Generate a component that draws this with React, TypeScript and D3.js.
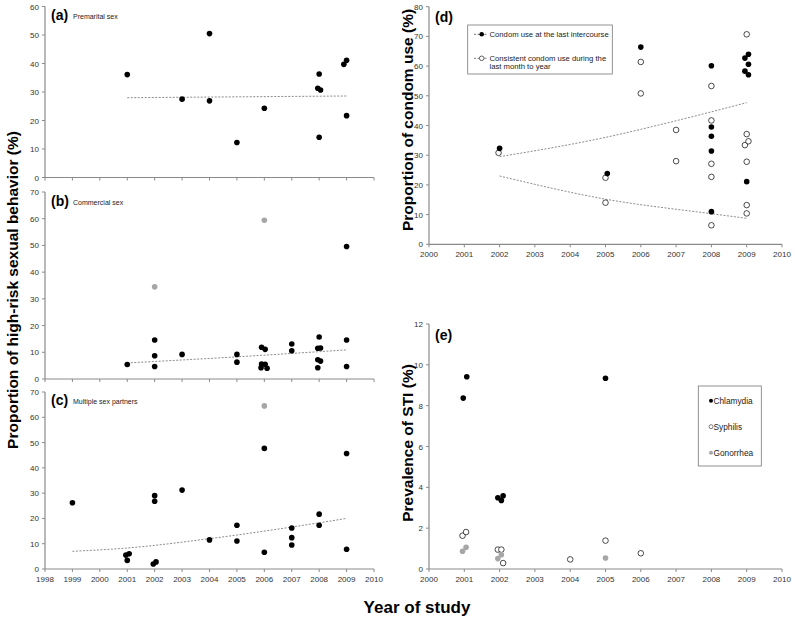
import React from "react";
import * as d3 from "d3";

// ---------- Data ----------
// Panel (a) Premarital sex: [year, %]
const premarital: [number, number][] = [
  [2001, 36.1], [2003, 27.5], [2004, 50.5], [2004, 26.9], [2005, 12.3], [2006, 24.3],
  [2008, 36.3], [2007.95, 31.3], [2008.05, 30.7], [2008, 14.1], [2008.9, 39.7], [2009, 41.1], [2009, 21.7],
];
const premaritalTrend: [number, number][] = [[2001, 28.0], [2009, 28.6]];

// Panel (b) Commercial sex
const commercial: [number, number][] = [
  [2001, 5.4], [2002, 14.6], [2002, 8.7], [2002, 4.7], [2003, 9.2], [2005, 9.2], [2005, 6.3],
  [2005.9, 11.9], [2006.03, 11.1], [2005.9, 5.6], [2005.88, 4.2], [2006.03, 5.5], [2006.1, 4.0],
  [2007, 13.1], [2007, 10.6], [2008, 15.7], [2007.95, 11.5], [2008.05, 11.6], [2007.95, 7.2],
  [2008.05, 6.7], [2007.95, 4.2], [2009, 14.6], [2009, 4.7], [2009, 49.6],
];
const commercialGray: [number, number][] = [[2002, 34.5], [2006, 59.4]];
const commercialTrend: [number, number][] = [[2001, 6.0], [2005, 8.3], [2009, 10.9]];

// Panel (c) Multiple sex partners
const multiple: [number, number][] = [
  [1999, 26.2], [2000.95, 5.5], [2001.07, 6.0], [2001, 3.4], [2002, 29.0], [2002, 26.8],
  [2001.95, 2.0], [2002.05, 2.8], [2003, 31.2], [2004, 11.5], [2005, 17.3], [2005, 11.1],
  [2006, 47.7], [2006, 6.6], [2007, 16.2], [2007, 12.4], [2007, 9.5], [2008, 21.7], [2008, 17.3],
  [2009, 45.7], [2009, 7.8],
];
const multipleGray: [number, number][] = [[2006, 64.5]];
const multipleTrend: [number, number][] = [[1999, 7.0], [2001, 8.3], [2004, 12.0], [2007, 16.6], [2009, 20.0]];

// Panel (d) Condom use
const condomLast: [number, number][] = [
  [2002, 32.3], [2005.05, 23.8], [2006, 66.4], [2008, 60.1], [2008, 39.5], [2008, 36.4], [2008, 31.4],
  [2008, 11.0], [2008.95, 62.7], [2009.05, 64.0], [2009.05, 60.6], [2008.95, 58.3], [2009.05, 57.1],
  [2009, 21.1],
];
const condomConsistent: [number, number][] = [
  [2001.97, 30.8], [2005, 22.4], [2005, 14.0], [2006, 61.4], [2006, 50.8], [2007, 38.5], [2007, 28.0],
  [2008, 53.3], [2008, 41.7], [2008, 27.1], [2008, 22.7], [2008, 6.4], [2009, 70.7], [2009, 37.1],
  [2008.95, 33.4], [2009.05, 34.7], [2009, 27.8], [2009, 13.2], [2009, 10.4],
];
const condomLastTrend: [number, number][] = [[2002, 29.5], [2005, 36.0], [2007, 41.6], [2009, 47.7]];
const condomConsistentTrend: [number, number][] = [[2002, 23.0], [2005, 15.2], [2008, 10.3], [2009, 8.75]];

// Panel (e) STI prevalence
const chlamydia: [number, number][] = [
  [2000.97, 8.37], [2001.07, 9.42], [2005, 9.34], [2001.95, 3.49], [2002.05, 3.36], [2002.1, 3.59],
];
const syphilis: [number, number][] = [
  [2000.95, 1.63], [2001.05, 1.81], [2001.95, 0.95], [2002.05, 0.95], [2002.1, 0.29],
  [2004, 0.47], [2005, 1.39], [2006, 0.77],
];
const gonorrhea: [number, number][] = [
  [2000.95, 0.87], [2001.05, 1.06], [2001.95, 0.51], [2002.05, 0.70], [2005, 0.54],
];

const leftYears = d3.range(1998, 2011);
const rightYears = d3.range(2000, 2011);
const ticksA = [0, 10, 20, 30, 40, 50, 60];
const ticksBC = [0, 10, 20, 30, 40, 50, 60, 70];
const ticksD = [0, 10, 20, 30, 40, 50, 60, 70, 80];
const ticksE = [0, 2, 4, 6, 8, 10, 12];

// ---------- Styles ----------
const FONT = "Arial, 'Liberation Sans', Helvetica, sans-serif";
const AXIS = "#8a8a8a";
const TICKTXT = "#333";
const GRAY = "#a6a6a6";
const R = 2.8;

type Scale = d3.ScaleLinear<number, number>;

function Axes({ x, y, xTicks, yTicks, showXLabels }: { x: Scale; y: Scale; xTicks: number[]; yTicks: number[]; showXLabels: boolean }) {
  const [x0, x1] = x.range();
  const [y0, y1] = y.range();
  return (
    <g fontFamily={FONT}>
      <line x1={x0} x2={x1} y1={y0} y2={y0} stroke={AXIS} strokeWidth={1.2} />
      <line x1={x0} x2={x0} y1={y0} y2={y1} stroke={AXIS} strokeWidth={1.2} />
      {xTicks.map((t) => (
        <g key={"x" + t}>
          <line x1={x(t)} x2={x(t)} y1={y0} y2={y0 + 3} stroke={AXIS} strokeWidth={1} />
          {showXLabels && (
            <text x={x(t)} y={y0 + 13} textAnchor="middle" fontSize={8} fill={TICKTXT}>{t}</text>
          )}
        </g>
      ))}
      {yTicks.map((t) => (
        <g key={"y" + t}>
          <line x1={x0 - 3} x2={x0} y1={y(t)} y2={y(t)} stroke={AXIS} strokeWidth={1} />
          <text x={x0 - 6} y={y(t) + 3} textAnchor="end" fontSize={8} fill={TICKTXT}>{t}</text>
        </g>
      ))}
    </g>
  );
}

function Dots({ data, x, y, fill, stroke }: { data: [number, number][]; x: Scale; y: Scale; fill: string; stroke?: string }) {
  return (
    <g>
      {data.map((d, i) => (
        <circle key={i} cx={x(d[0])} cy={y(d[1])} r={R} fill={fill} stroke={stroke ?? "none"} strokeWidth={stroke ? 0.7 : 0} />
      ))}
    </g>
  );
}

function Trend({ data, x, y }: { data: [number, number][]; x: Scale; y: Scale }) {
  const line = d3.line<[number, number]>().x((d) => x(d[0])).y((d) => y(d[1])).curve(d3.curveMonotoneX);
  return <path d={line(data) ?? ""} fill="none" stroke="#6e6e6e" strokeWidth={0.8} strokeDasharray="2,1.5" />;
}

function PanelLabel({ x, y, tag, text }: { x: number; y: number; tag: string; text?: string }) {
  return (
    <g fontFamily={FONT}>
      <text x={x} y={y} fontSize={14} fontWeight="bold" fill="#000">{tag}</text>
      {text && <text x={x + 22} y={y - 1} fontSize={7} fill="#222">{text}</text>}
    </g>
  );
}

export default function App() {
  const xL = d3.scaleLinear().domain([1998, 2010]).range([45, 374]);
  const xR = d3.scaleLinear().domain([2000, 2010]).range([429, 782]);
  const yA = d3.scaleLinear().domain([0, 60]).range([177.5, 6.5]);
  const yB = d3.scaleLinear().domain([0, 70]).range([379, 192]);
  const yC = d3.scaleLinear().domain([0, 70]).range([569, 392]);
  const yD = d3.scaleLinear().domain([0, 80]).range([244.3, 6.7]);
  const yE = d3.scaleLinear().domain([0, 12]).range([569, 324]);

  return (
    <svg width={795} height={621} style={{ position: "absolute", left: 0, top: 0, background: "#fff" }}>
      <rect x={0} y={0} width={795} height={621} fill="#fff" />

      {/* Panel (a) */}
      <Axes x={xL} y={yA} xTicks={leftYears} yTicks={ticksA} showXLabels={false} />
      <Trend data={premaritalTrend} x={xL} y={yA} />
      <Dots data={premarital} x={xL} y={yA} fill="#000" />
      <PanelLabel x={51} y={19.5} tag="(a)" text="Premarital sex" />

      {/* Panel (b) */}
      <Axes x={xL} y={yB} xTicks={leftYears} yTicks={ticksBC} showXLabels={false} />
      <Trend data={commercialTrend} x={xL} y={yB} />
      <Dots data={commercial} x={xL} y={yB} fill="#000" />
      <Dots data={commercialGray} x={xL} y={yB} fill={GRAY} />
      <PanelLabel x={51} y={206} tag="(b)" text="Commercial sex" />

      {/* Panel (c) */}
      <Axes x={xL} y={yC} xTicks={leftYears} yTicks={ticksBC} showXLabels={true} />
      <Trend data={multipleTrend} x={xL} y={yC} />
      <Dots data={multiple} x={xL} y={yC} fill="#000" />
      <Dots data={multipleGray} x={xL} y={yC} fill={GRAY} />
      <PanelLabel x={51} y={405} tag="(c)" text="Multiple sex partners" />

      {/* Panel (d) */}
      <Axes x={xR} y={yD} xTicks={rightYears} yTicks={ticksD} showXLabels={true} />
      <Trend data={condomLastTrend} x={xR} y={yD} />
      <Trend data={condomConsistentTrend} x={xR} y={yD} />
      <Dots data={condomConsistent} x={xR} y={yD} fill="#fff" stroke="#000" />
      <Dots data={condomLast} x={xR} y={yD} fill="#000" />
      <PanelLabel x={435} y={21.5} tag="(d)" />
      <g fontFamily={FONT}>
        <rect x={467.7} y={25} width={144.6} height={49} fill="#fff" stroke="#777" strokeWidth={0.8} />
        <line x1={474} x2={488} y1={34.3} y2={34.3} stroke="#555" strokeWidth={0.8} strokeDasharray="2,1.5" />
        <circle cx={481.7} cy={34.3} r={2.3} fill="#000" />
        <text x={489.5} y={36.9} fontSize={7.7} fill="#222">Condom use at the last intercourse</text>
        <line x1={474} x2={488} y1={58.3} y2={58.3} stroke="#555" strokeWidth={0.8} strokeDasharray="2,1.5" />
        <circle cx={481.7} cy={58.3} r={2.3} fill="#fff" stroke="#000" strokeWidth={0.6} />
        <text x={489.5} y={60.9} fontSize={7.7} fill="#222">Consistent condom use during the</text>
        <text x={489.5} y={68.5} fontSize={7.7} fill="#222">last month to year</text>
      </g>

      {/* Panel (e) */}
      <Axes x={xR} y={yE} xTicks={rightYears} yTicks={ticksE} showXLabels={true} />
      <Dots data={syphilis} x={xR} y={yE} fill="#fff" stroke="#000" />
      <Dots data={gonorrhea} x={xR} y={yE} fill={GRAY} />
      <Dots data={chlamydia} x={xR} y={yE} fill="#000" />
      <PanelLabel x={435} y={339.5} tag="(e)" />
      <g fontFamily={FONT}>
        <rect x={698.3} y={386} width={63} height={80} fill="#fff" stroke="#777" strokeWidth={0.8} />
        <circle cx={711} cy={400.7} r={2} fill="#000" />
        <text x={713.5} y={403.6} fontSize={8.3} fill="#222">Chlamydia</text>
        <circle cx={711} cy={426.7} r={2} fill="#fff" stroke="#000" strokeWidth={0.5} />
        <text x={713.5} y={429.6} fontSize={8.3} fill="#222">Syphilis</text>
        <circle cx={711} cy={452.7} r={2} fill={GRAY} />
        <text x={713.5} y={455.6} fontSize={8.3} fill="#222">Gonorrhea</text>
      </g>

      {/* Axis titles */}
      <g fontFamily={FONT} fontWeight="bold" fill="#000">
        <text transform="translate(18,290) rotate(-90)" textAnchor="middle" fontSize={15.5}>
          Proportion of high-risk sexual behavior (%)
        </text>
        <text transform="translate(413,120) rotate(-90)" textAnchor="middle" fontSize={15.5}>
          Proportion of condom use (%)
        </text>
        <text transform="translate(413,443) rotate(-90)" textAnchor="middle" fontSize={15.5}>
          Prevalence of STI (%)
        </text>
        <text x={417} y={613} textAnchor="middle" fontSize={17}>Year of study</text>
      </g>
    </svg>
  );
}
